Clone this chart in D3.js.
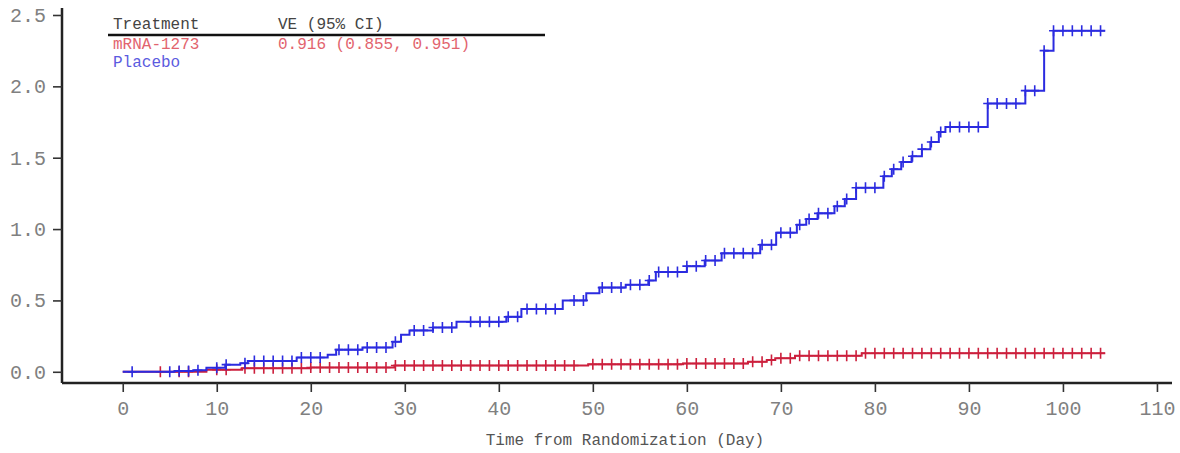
<!DOCTYPE html>
<html>
<head>
<meta charset="utf-8">
<script src="https://cdn.jsdelivr.net/npm/d3@7"></script>
<style>
  body { margin: 0; background: #fff; }
  svg { display: block; }
  text { font-family: "Liberation Mono", "Courier New", monospace; }
</style>
</head>
<body>
<svg id="chart" width="1180" height="453"></svg>
<script>
// cumulative incidence (%) step points: [day, value after the step]
const placeboSteps = [
  [0, 0], [5.5, 0.005], [7.5, 0.01], [8.9, 0.028], [10.9, 0.05], [12.5, 0.06],
  [13.3, 0.075], [18.5, 0.1], [21.8, 0.12], [22.7, 0.155], [25.5, 0.17],
  [28.7, 0.21], [29.6, 0.26], [30.5, 0.29], [33, 0.31], [35.5, 0.35],
  [40.8, 0.385], [42.4, 0.44], [46.8, 0.5], [49.3, 0.55], [50.7, 0.59],
  [53.5, 0.61], [55.9, 0.64], [56.7, 0.7], [60, 0.74], [61.9, 0.78], [63.7, 0.83],
  [67.8, 0.89], [69.5, 0.975], [71.7, 1.03], [72.7, 1.07], [73.9, 1.11],
  [75.7, 1.16], [76.8, 1.21], [78, 1.29], [80.9, 1.37], [81.8, 1.42],
  [82.8, 1.47], [83.9, 1.51], [85, 1.56], [85.9, 1.61], [86.8, 1.68],
  [87.5, 1.715], [92, 1.88], [96, 1.97], [98, 2.25], [99, 2.39]
];
const vaccineSteps = [
  [0, 0], [8.9, 0.014], [12.7, 0.025], [20, 0.03], [28.9, 0.044],
  [49.5, 0.052], [59.6, 0.058], [66.5, 0.07], [68.5, 0.082], [69.4, 0.095],
  [71.5, 0.112], [78.6, 0.13]
];
const lastDay = 104.5;

// censored observations (days)
const placeboCensor = [1, 5, 6, 7, 8, 10, 11, 13, 14, 15, 16, 17, 18, 19, 20, 21,
  23, 24, 25, 26, 27, 28, 29, 31, 32, 33, 34, 35, 37, 38, 39, 40, 41, 42, 43, 44,
  45, 46, 48, 49, 51, 52, 53, 54, 55, 56, 57, 58, 59, 60, 61, 62, 63, 64, 65, 66,
  67, 68, 69, 70, 71, 72, 73, 74, 75, 76, 77, 78, 79, 80, 81, 82, 83, 84, 85, 86,
  87, 88, 89, 90, 91, 92, 93, 94, 95, 96, 97, 98, 99, 100, 101, 102, 103, 104];
const vaccineCensor = [4, 6, 7, 10, 11, 13, 14, 15, 16, 17, 18, 19, 20, 21, 22, 23,
  24, 25, 26, 27, 28, 29, 30, 31, 32, 33, 34, 35, 36, 37, 38, 39, 40, 41, 42, 43,
  44, 45, 46, 47, 48, 50, 51, 52, 53, 54, 55, 56, 57, 58, 59, 60, 61, 62, 63, 64,
  65, 66, 67, 68, 69, 70, 71, 72, 73, 74, 75, 76, 77, 78, 79, 80, 81, 82, 83, 84,
  85, 86, 87, 88, 89, 90, 91, 92, 93, 94, 95, 96, 97, 98, 99, 100, 101, 102, 103, 104];

const xTicks = [0, 10, 20, 30, 40, 50, 60, 70, 80, 90, 100, 110];
const yTicks = [0, 0.5, 1.0, 1.5, 2.0, 2.5];

const legendHeader = ["Treatment", "VE (95% CI)"];
const legendRows = [
  { name: "mRNA-1273", ve: "0.916 (0.855, 0.951)", color: "#e2646e" },
  { name: "Placebo", ve: "", color: "#5b5be0" }
];

const svg = d3.select("#chart");

const x = d3.scaleLinear().domain([-6.46, 111.6]).range([62, 1172]);
const y = d3.scaleLinear().domain([-0.0786, 2.549]).range([383, 8]);

// axes
const gx = svg.append("g")
  .attr("transform", "translate(0,383)")
  .call(d3.axisBottom(x).tickValues(xTicks).tickSize(9).tickPadding(9).tickFormat(d3.format("d")));
const gy = svg.append("g")
  .attr("transform", "translate(62,0)")
  .call(d3.axisLeft(y).tickValues(yTicks).tickSize(9).tickPadding(7).tickFormat(d3.format(".1f")));

[gx, gy].forEach(g => {
  g.select(".domain").attr("stroke", "#222").attr("stroke-width", 2.5);
  g.selectAll(".tick line").attr("stroke", "#333").attr("stroke-width", 1.6);
  g.selectAll(".tick text").attr("fill", "#808080").style("font-size", "20px")
    .style("font-family", "'Liberation Mono', monospace");
});
gy.select(".domain").attr("d", "M0,8V383");
gx.select(".domain").attr("d", "M62,0H1172");

svg.append("text")
  .attr("x", 625)
  .attr("y", 445)
  .attr("text-anchor", "middle")
  .attr("fill", "#555")
  .style("font-size", "16px")
  .text("Time from Randomization (Day)");

// curves
function stepValue(steps, t) {
  let v = steps[0][1];
  steps.forEach(s => { if (s[0] <= t) v = s[1]; });
  return v;
}

const line = d3.line()
  .x(d => x(d[0]))
  .y(d => y(d[1]))
  .curve(d3.curveStepAfter);

const series = [
  { steps: vaccineSteps, censor: vaccineCensor, color: "#cc1f3c" },
  { steps: placeboSteps, censor: placeboCensor, color: "#2b2be0" }
];

series.forEach(s => {
  const pts = s.steps.concat([[lastDay, s.steps[s.steps.length - 1][1]]]);
  svg.append("path")
    .datum(pts)
    .attr("d", line)
    .attr("fill", "none")
    .attr("stroke", s.color)
    .attr("stroke-width", 2);

  svg.append("g")
    .selectAll("path")
    .data(s.censor)
    .join("path")
    .attr("transform", d => `translate(${x(d)},${y(stepValue(s.steps, d))})`)
    .attr("d", "M-4.5,0H4.5M0,-5.5V5.5")
    .attr("fill", "none")
    .attr("stroke", s.color)
    .attr("stroke-width", 1.6);
});

// legend table
const lg = svg.append("g").style("font-size", "16px");
lg.append("text").attr("x", 113).attr("y", 29).attr("fill", "#444").text(legendHeader[0]);
lg.append("text").attr("x", 278).attr("y", 29).attr("fill", "#444").text(legendHeader[1]);
lg.append("line")
  .attr("x1", 108).attr("x2", 545).attr("y1", 35).attr("y2", 35)
  .attr("stroke", "#111").attr("stroke-width", 2.5);
legendRows.forEach((r, i) => {
  lg.append("text").attr("x", 113).attr("y", 49 + i * 18).attr("fill", r.color).text(r.name);
  lg.append("text").attr("x", 278).attr("y", 49 + i * 18).attr("fill", r.color).text(r.ve);
});
</script>
</body>
</html>
